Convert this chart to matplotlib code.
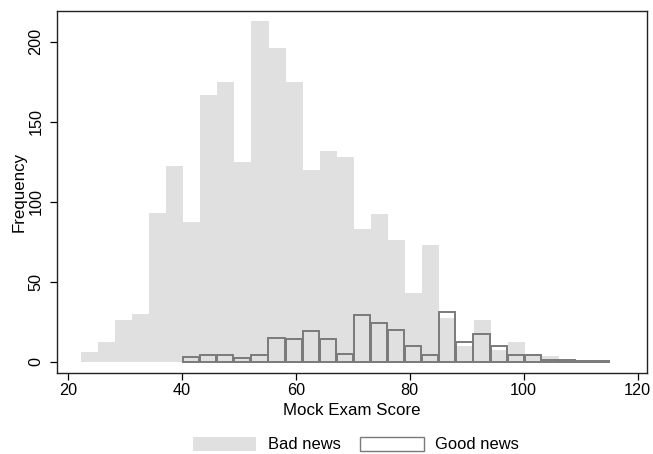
import matplotlib
matplotlib.use("Agg")
import matplotlib.pyplot as plt
from matplotlib.patches import Patch
import numpy as np

# Data
bin_width = 3.0
bad_start = 22.2
good_start = 40.1
bad_counts = [6, 12, 26, 30, 93, 122, 87, 167, 175, 125, 213, 196, 175, 120,
              132, 128, 83, 92, 76, 43, 73, 27, 10, 26, 7.5, 12, 5, 3.3, 1.7]
good_counts = [3, 4, 4, 2, 4, 15, 14, 19, 14, 5, 29, 24, 20, 10, 4, 31, 12,
               17, 10, 4, 4, 1, 1, 0.4, 0.4]
x_ticks = [20, 40, 60, 80, 100, 120]
y_ticks = [0, 50, 100, 150, 200]
series_labels = ["Bad news", "Good news"]
x_label = "Mock Exam Score"
y_label = "Frequency"

plt.rcParams['font.family'] = ['Liberation Sans', 'DejaVu Sans']

fig = plt.figure(figsize=(6.53, 4.54), dpi=100)
ax = fig.add_axes([57.3 / 653, 1 - 373 / 454, (646.7 - 57.3) / 653, (373 - 10.7) / 454])

bad_left = bad_start + bin_width * np.arange(len(bad_counts))
good_left = good_start + bin_width * np.arange(len(good_counts))

ax.bar(bad_left, bad_counts, width=bin_width, align='edge',
       color='#e0e0e0', edgecolor='none', linewidth=0, zorder=1)
ax.bar(good_left + 0.08, good_counts, width=bin_width - 0.16, align='edge',
       facecolor='none', edgecolor='#7a7a7a', linewidth=1.4, zorder=2)

ax.set_xlim(18.1, 121.6)
ax.set_ylim(-7.1, 219.4)
ax.set_xticks(x_ticks)
ax.set_yticks(y_ticks)
ax.set_yticklabels([str(v) for v in y_ticks], rotation=90, va='center')
ax.tick_params(axis='both', direction='out', length=5, width=0.9,
               labelsize=11.7, colors='black')
ax.tick_params(axis='x', pad=2)
ax.tick_params(axis='y', pad=5)
for s in ax.spines.values():
    s.set_linewidth(1.0)
    s.set_color('#222222')

ax.set_xlabel(x_label, fontsize=12.2, labelpad=3.5)
ax.set_ylabel(y_label, fontsize=12.2, labelpad=1)

handles = [Patch(facecolor='#e0e0e0', edgecolor='none'),
           Patch(facecolor='white', edgecolor='#7a7a7a', linewidth=1.0)]
fig.legend(handles, series_labels, loc='center', bbox_to_anchor=(356 / 653, 1 - 444.5 / 454),
           ncol=2, frameon=False, fontsize=11.9, handlelength=3.82, handleheight=0.97,
           handletextpad=0.68, columnspacing=1.21, borderpad=0.2)

fig.savefig("out.png", dpi=100)
